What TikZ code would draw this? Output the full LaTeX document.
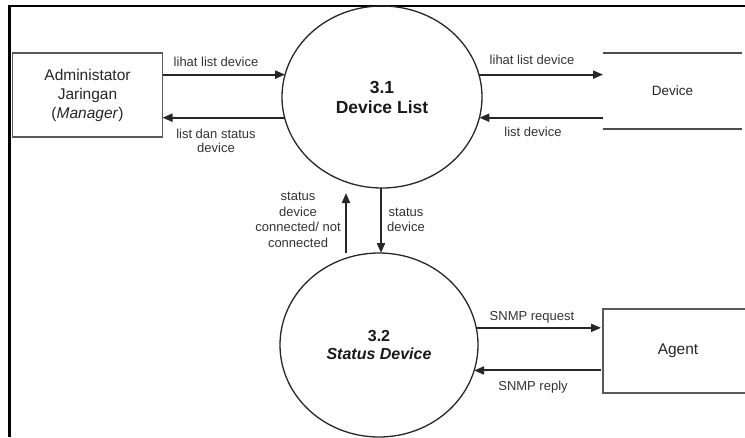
\documentclass[tikz,border=0pt]{standalone}
\usepackage{fontspec}
\setmainfont{Liberation Sans}
\usetikzlibrary{arrows.meta,shapes.geometric}
\begin{document}
\begin{tikzpicture}[x=1pt,y=-1pt,
  line/.style={draw=black!85, line width=2pt},
  flow/.style={line, -{Triangle[length=10pt,width=8pt]}},
  ext/.style={draw=black!65, line width=1.8pt, minimum width=150pt, minimum height=84pt,
    inner sep=0pt, outer sep=0pt, align=center, text=black!85},
  proc/.style={ellipse, draw=black!85, line width=1.3pt, inner sep=0pt, outer sep=0pt,
    align=center, text=black!90},
  lbl/.style={font=\fontsize{13}{14}\selectfont, text=black!80, align=center, inner sep=0pt},
  frame/.style={draw=black, line width=2.4pt}
]
\useasboundingbox (0,0) rectangle (745,437);
\clip (0,0) rectangle (745,437);

% frame (top and left only)
\coordinate (fl) at (9.5,437);
\coordinate (fc) at (9.5,6);
\coordinate (fr) at (745,6);
\draw[frame] (fl) -- (fc) -- (fr);

% nodes
\node[ext, font=\fontsize{15.5}{19}\selectfont] (admin) at (87.5,95)
  {Administator\\Jaringan\\(\textit{Manager})};
\node[proc, minimum width=200pt, minimum height=182pt,
  font=\fontsize{17.5}{20}\selectfont\bfseries] (p31) at (382,97) {3.1\\Device List};
\node[inner sep=0pt, outer sep=0pt, minimum width=139pt, minimum height=76pt,
  font=\fontsize{13.5}{16}\selectfont, text=black!85] (dev) at (672.5,91) {Device};
\draw[draw=black!70, line width=1.8pt] (dev.north west) -- (dev.north east)
  (dev.south west) -- (dev.south east);
\node[proc, minimum width=198pt, minimum height=184pt,
  font=\fontsize{16}{18.5}\selectfont\bfseries] (p32) at (379,345) {3.2\\\textit{Status Device}};
\node[ext, font=\fontsize{15.5}{19}\selectfont] (agent) at (678,351) {Agent};

% flows
\draw[flow] (admin.east |- p31.167) -- (p31.167);
\draw[flow] (p31.192) -- (admin.east |- p31.192);
\draw[flow] (p31.13) -- (dev.west |- p31.13);
\draw[flow] (dev.west |- p31.348) -- (p31.348);
\draw[flow] ([xshift=-36pt]p31.south |- p32.north) -- ([xshift=-36pt,yshift=-5pt]p31.south);
\draw[flow] ([xshift=-1pt]p31.south) -- ([xshift=-1pt]p31.south |- p32.north);
\draw[flow] (p32.10) -- ([xshift=-2pt]agent.west |- p32.10);
\draw[flow] ([xshift=-2pt]agent.west |- p32.345) -- (p32.345);

% labels
\node[lbl] (l1) at (216,62) {lihat list device};
\node[lbl] (l2) at (216,141) {list dan status\\device};
\node[lbl] (l3) at (532,60) {lihat list device};
\node[lbl] (l4) at (533,132) {list device};
\node[lbl, font=\fontsize{13}{15.5}\selectfont] (l5) at (298,220) {status\\device\\connected/ not\\connected};
\node[lbl, font=\fontsize{13}{15.5}\selectfont] (l6) at (406,220) {status\\device};
\node[lbl] (l7) at (532,317) {SNMP request};
\node[lbl] (l8) at (533,387) {SNMP reply};
\end{tikzpicture}
\end{document}
